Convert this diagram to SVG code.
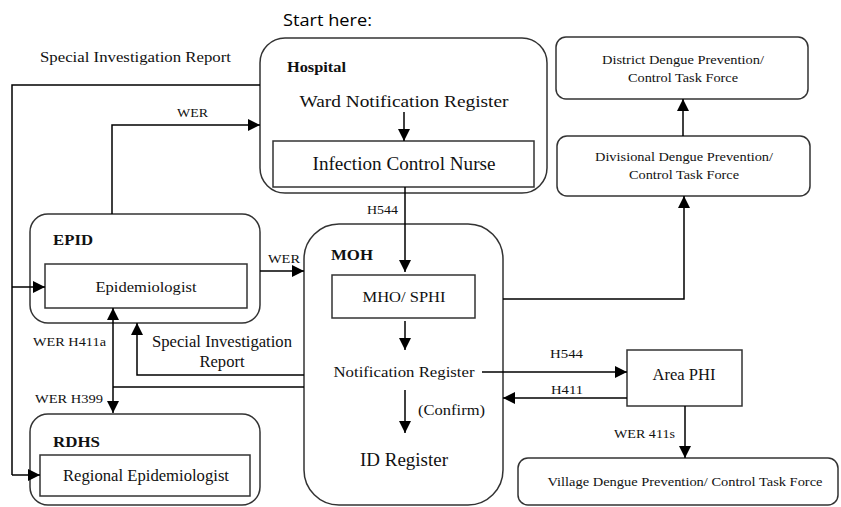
<svg xmlns="http://www.w3.org/2000/svg" width="841" height="507" viewBox="0 0 841 507">
<defs>
<marker id="ah" markerUnits="userSpaceOnUse" markerWidth="12" markerHeight="12" refX="12" refY="6" orient="auto-start-reverse">
<path d="M0,0 L12,6 L0,12 z" fill="#000"/>
</marker>
<style>
.box{fill:#fff;stroke:#333;stroke-width:1.5}
.t{font-family:'Liberation Serif',Tinos,'Times New Roman',serif;fill:#111}
.b{font-family:'Liberation Serif',Tinos,'Times New Roman',serif;font-weight:bold;fill:#111}
.c{fill:none;stroke:#000;stroke-width:1.5}
.a{marker-end:url(#ah)}
</style>
</defs>
<rect width="841" height="507" fill="#fff"/>
<text x="283" y="26" font-family="'Open Sans','Liberation Sans',sans-serif" font-size="16" fill="#000" textLength="89" lengthAdjust="spacingAndGlyphs">Start here:</text>
<text class="t" x="40" y="62" font-size="15" textLength="191" lengthAdjust="spacingAndGlyphs">Special Investigation Report</text>

<g id="hospital">
<rect class="box" x="260" y="38" width="287" height="155" rx="25"/>
<text class="b" x="287" y="72" font-size="14" textLength="59" lengthAdjust="spacingAndGlyphs">Hospital</text>
<text class="t" x="404" y="107" font-size="17" text-anchor="middle" textLength="209" lengthAdjust="spacingAndGlyphs">Ward Notification Register</text>
<rect class="box" x="273" y="141" width="261" height="46" rx="0"/>
<text class="t" x="404" y="170" font-size="18" text-anchor="middle" textLength="183" lengthAdjust="spacingAndGlyphs">Infection Control Nurse</text>
</g>

<g id="district">
<rect class="box" x="556" y="37" width="252" height="62" rx="10"/>
<text class="t" x="683" y="64" font-size="13" text-anchor="middle" textLength="162" lengthAdjust="spacingAndGlyphs">District Dengue Prevention/</text>
<text class="t" x="683" y="82" font-size="13" text-anchor="middle" textLength="110" lengthAdjust="spacingAndGlyphs">Control Task Force</text>
</g>

<g id="divisional">
<rect class="box" x="557" y="136" width="253" height="60" rx="10"/>
<text class="t" x="684" y="161" font-size="13" text-anchor="middle" textLength="178" lengthAdjust="spacingAndGlyphs">Divisional Dengue Prevention/</text>
<text class="t" x="684" y="179" font-size="13" text-anchor="middle" textLength="110" lengthAdjust="spacingAndGlyphs">Control Task Force</text>
</g>

<g id="epid">
<rect class="box" x="30" y="214" width="230" height="109" rx="18"/>
<text class="b" x="53" y="245" font-size="15" textLength="40" lengthAdjust="spacingAndGlyphs">EPID</text>
<rect class="box" x="45" y="264" width="202" height="44" rx="0"/>
<text class="t" x="146" y="292" font-size="15" text-anchor="middle" textLength="101" lengthAdjust="spacingAndGlyphs">Epidemiologist</text>
</g>

<g id="moh">
<rect class="box" x="304" y="224" width="199" height="281" rx="35"/>
<text class="b" x="331" y="260" font-size="15" textLength="42" lengthAdjust="spacingAndGlyphs">MOH</text>
<rect class="box" x="332" y="275" width="143" height="43" rx="0"/>
<text class="t" x="404" y="302" font-size="15" text-anchor="middle" textLength="83" lengthAdjust="spacingAndGlyphs">MHO/ SPHI</text>
<text class="t" x="404" y="377" font-size="15" text-anchor="middle" textLength="141" lengthAdjust="spacingAndGlyphs">Notification Register</text>
<text class="t" x="418" y="415" font-size="14" textLength="67" lengthAdjust="spacingAndGlyphs">(Confirm)</text>
<text class="t" x="404" y="466" font-size="18" text-anchor="middle" textLength="88" lengthAdjust="spacingAndGlyphs">ID Register</text>
</g>

<g id="area-phi">
<rect class="box" x="627" y="350" width="115" height="56" rx="0"/>
<text class="t" x="684" y="380" font-size="16" text-anchor="middle" textLength="63" lengthAdjust="spacingAndGlyphs">Area PHI</text>
</g>

<g id="village">
<rect class="box" x="518" y="458" width="320" height="47" rx="10"/>
<text class="t" x="685" y="486" font-size="13" text-anchor="middle" textLength="275" lengthAdjust="spacingAndGlyphs">Village Dengue Prevention/ Control Task Force</text>
</g>

<g id="rdhs">
<rect class="box" x="30" y="414" width="230" height="91" rx="18"/>
<text class="b" x="53" y="447" font-size="15" textLength="47" lengthAdjust="spacingAndGlyphs">RDHS</text>
<rect class="box" x="40" y="455" width="210" height="41" rx="0"/>
<text class="t" x="146" y="481" font-size="16" text-anchor="middle" textLength="166" lengthAdjust="spacingAndGlyphs">Regional Epidemiologist</text>
</g>

<g id="connectors">
<path class="c a" d="M404,112 V141"/>
<path class="c a" d="M405,187 V272"/>
<text class="t" x="367" y="214" font-size="12" textLength="31" lengthAdjust="spacingAndGlyphs">H544</text>
<path class="c" d="M260,85 H12 V475"/>
<path class="c a" d="M12,475 H40"/>
<path class="c a" d="M12,287 H45"/>
<path class="c a" d="M112,214 V125 H260"/>
<text class="t" x="177" y="117" font-size="13" textLength="31" lengthAdjust="spacingAndGlyphs">WER</text>
<path class="c a" d="M260,271 H304"/>
<text class="t" x="268" y="263" font-size="13" textLength="32" lengthAdjust="spacingAndGlyphs">WER</text>
<path class="c a" d="M405,321 V350"/>
<path class="c a" d="M405,390 V433"/>
<path class="c a" d="M482,372 H627"/>
<text class="t" x="550" y="358" font-size="13" textLength="33" lengthAdjust="spacingAndGlyphs">H544</text>
<path class="c a" d="M627,398 H503"/>
<text class="t" x="551" y="394" font-size="13" textLength="32" lengthAdjust="spacingAndGlyphs">H411</text>
<path class="c a" d="M685,406 V458"/>
<text class="t" x="614" y="438" font-size="13" textLength="61" lengthAdjust="spacingAndGlyphs">WER 411s</text>
<path class="c a" d="M503,299 H684 V196"/>
<path class="c a" d="M683,136 V99"/>
<path class="c a" d="M304,375 H137 V323"/>
<text class="t" x="222" y="347" font-size="16" text-anchor="middle" textLength="140" lengthAdjust="spacingAndGlyphs">Special Investigation</text>
<text class="t" x="222" y="367" font-size="16" text-anchor="middle" textLength="45" lengthAdjust="spacingAndGlyphs">Report</text>
<path class="c" d="M304,387 H113"/>
<path class="c" d="M113,308 V413" marker-start="url(#ah)" marker-end="url(#ah)"/>
<text class="t" x="33" y="346" font-size="13" textLength="73" lengthAdjust="spacingAndGlyphs">WER H411a</text>
<text class="t" x="35" y="403" font-size="13" textLength="68" lengthAdjust="spacingAndGlyphs">WER H399</text>
</g>
</svg>
